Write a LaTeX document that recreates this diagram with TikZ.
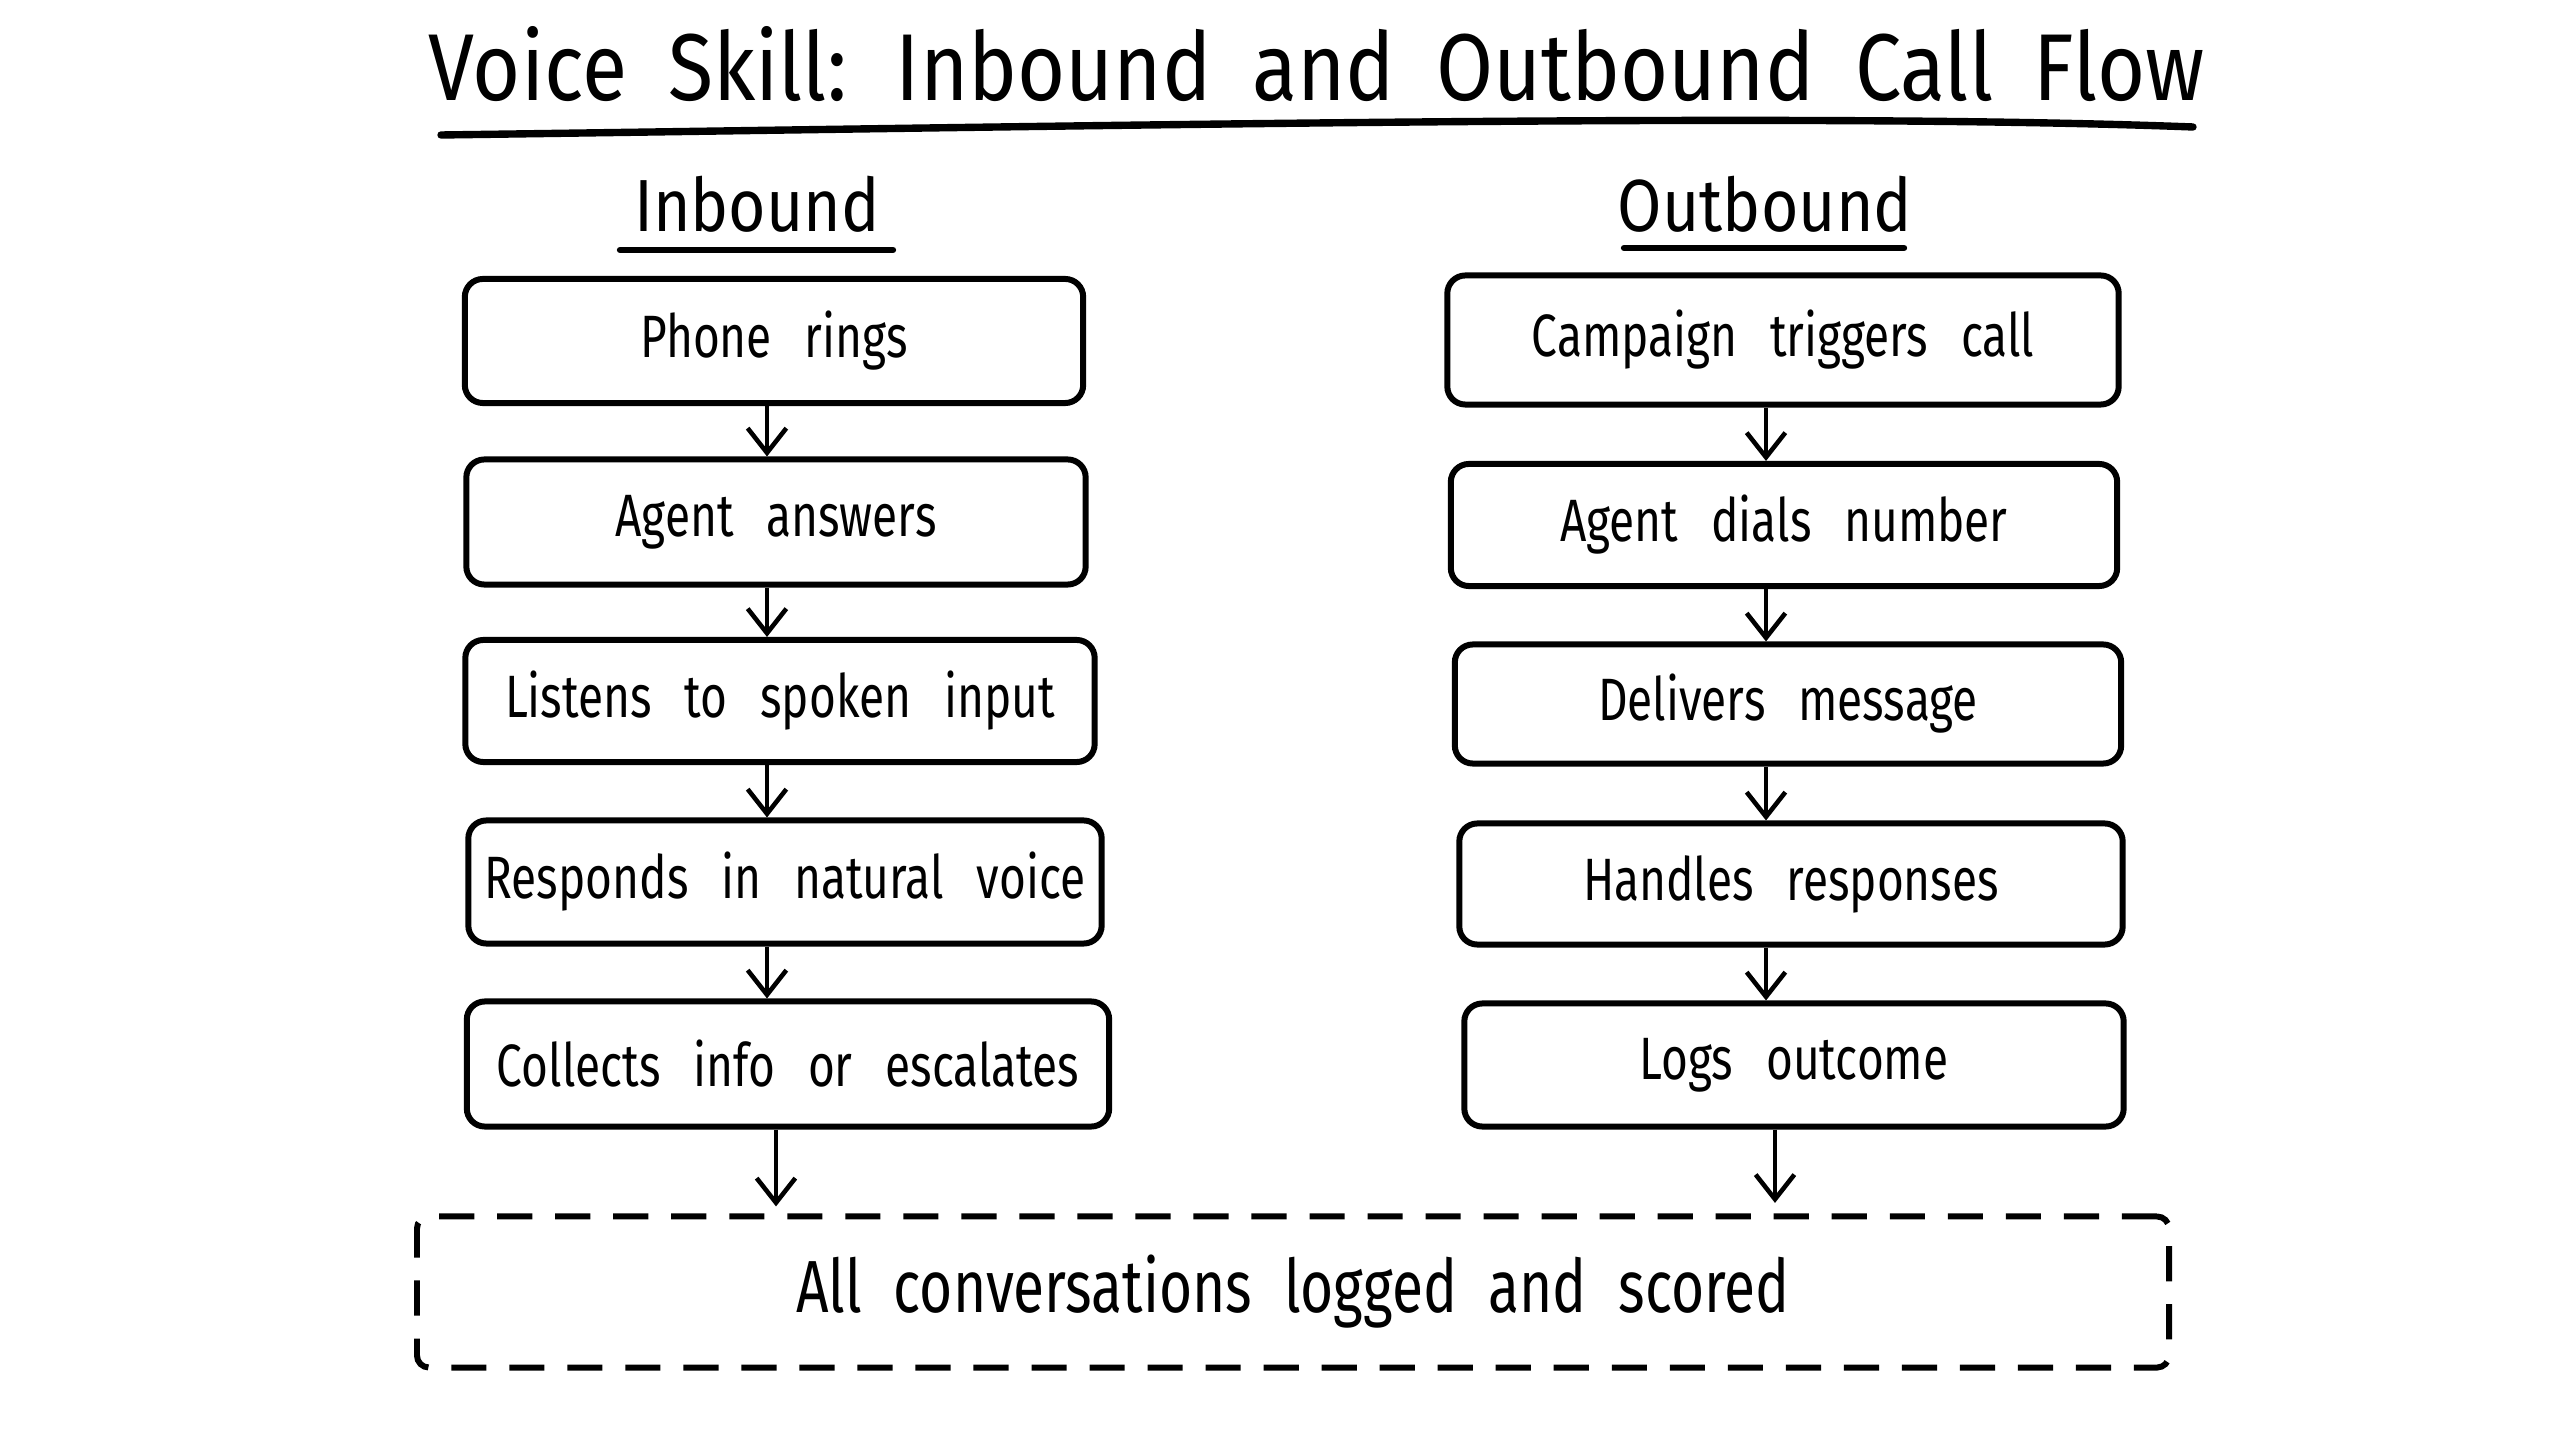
\documentclass[tikz,border=0pt]{standalone}
\usepackage{fontspec}
\setmainfont{Fira Sans}[FakeStretch=0.77]
\newfontfamily\titlefont{Fira Sans}[FakeStretch=0.87]
\newcommand\widespaces{\spaceskip=0.55em\relax}
\newcommand\midspaces{\spaceskip=0.43em\relax}
\usetikzlibrary{arrows.meta}
\begin{document}
\begin{tikzpicture}[x=0.01cm,y=-0.01cm,
  box/.style={draw, line width=1.7pt, rounded corners=0.18cm, inner sep=0pt,
    font={\fontsize{17}{20}\selectfont\widespaces}},
  arr/.style={-{Straight Barb[length=7pt,width=11pt,line width=1.3pt]}, line width=1.3pt},
  head/.style={anchor=base, font={\titlefont\fontsize{21}{25}\selectfont}},
  uline/.style={line width=1.8pt, line cap=round},
  dbox/.style={draw, line width=1.7pt, dash pattern=on 10pt off 6.5pt, rounded corners=0.12cm,
    inner sep=0pt, font={\fontsize{21}{25}\selectfont\midspaces}}]
\useasboundingbox (0,0) rectangle (2560,1440);
\fill[white] (0,0) rectangle (2560,1440);

% title
\node[anchor=base, font={\titlefont\fontsize{27}{32}\selectfont\midspaces}] (title) at (1317,101) {Voice Skill: Inbound and Outbound Call Flow};
\coordinate (tl) at (441,135);
\coordinate (tr) at (2193,127);
\draw[line width=2.1pt, line cap=round] (tl) .. controls (1100,126) and (1800,112) .. (tr);

% column heads
\node[head] (inb) at (757,232) {Inbound};
\coordinate (inbL) at (620,250);
\coordinate (inbR) at (893,250);
\draw[uline] (inbL) -- (inbR);
\node[head] (outb) at (1765,232) {Outbound};
\coordinate (outbL) at (1624,248);
\coordinate (outbR) at (1904,248);
\draw[uline] (outbL) -- (outbR);

% inbound boxes
\node[box, minimum width=6.18cm, minimum height=1.24cm] (l1) at (774,341) {Phone rings};
\node[box, minimum width=6.19cm, minimum height=1.25cm] (l2) at (776,522) {Agent answers};
\node[box, minimum width=6.29cm, minimum height=1.22cm] (l3) at (780,701) {Listens to spoken input};
\node[box, minimum width=6.33cm, minimum height=1.23cm] (l4) at (785,882) {Responds in natural voice};
\node[box, minimum width=6.42cm, minimum height=1.25cm] (l5) at (788,1064) {Collects info or escalates};

% outbound boxes
\node[box, minimum width=6.71cm, minimum height=1.29cm] (r1) at (1783,340) {Campaign triggers call};
\node[box, minimum width=6.66cm, minimum height=1.22cm] (r2) at (1784,525) {Agent dials number};
\node[box, minimum width=6.66cm, minimum height=1.19cm] (r3) at (1788,704) {Delivers message};
\node[box, minimum width=6.63cm, minimum height=1.21cm] (r4) at (1791,884) {Handles responses};
\node[box, minimum width=6.59cm, minimum height=1.23cm] (r5) at (1794,1065) {Logs outcome};

% bottom
\node[dbox, minimum width=17.51cm, minimum height=1.51cm] (all) at (1293,1292) {All conversations logged and scored};

% arrows
\coordinate (lx) at (767,0);
\coordinate (rx) at (1766,0);
\coordinate (lxf) at (776,0);
\coordinate (rxf) at (1775,0);
\foreach \a/\b in {l1/l2,l2/l3,l3/l4,l4/l5}
  \draw[arr] (\a.south -| lx) -- (\b.north -| lx);
\foreach \a/\b in {r1/r2,r2/r3,r3/r4,r4/r5}
  \draw[arr] (\a.south -| rx) -- (\b.north -| rx);
\draw[arr, shorten >=2pt] (l5.south -| lxf) -- (all.north -| lxf);
\draw[arr, shorten >=3pt] (r5.south -| rxf) -- (all.north -| rxf);
\end{tikzpicture}
\end{document}
